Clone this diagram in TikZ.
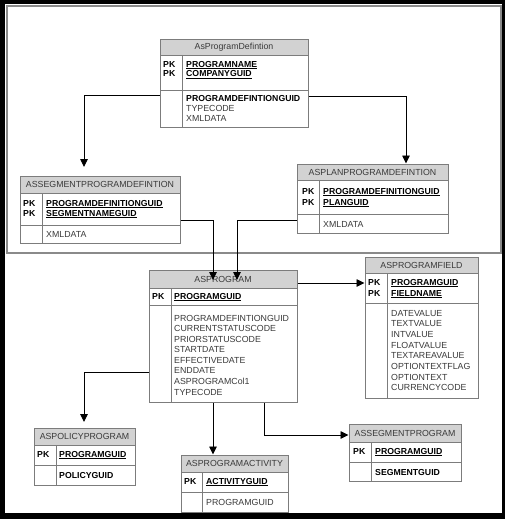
\documentclass[tikz,border=0pt]{standalone}
\usepackage{fontspec}
\setmainfont{Liberation Sans}
\usetikzlibrary{arrows.meta,fit}
\definecolor{hdrgray}{HTML}{D2D2D2}
\definecolor{bordergray}{HTML}{7C7C7C}
\definecolor{txtgray}{HTML}{3A3A3A}
\definecolor{framegray}{HTML}{8A8A8A}
\tikzset{
  hdrfill/.style={fill=hdrgray},
  tline/.style={draw=bordergray, line width=0.9pt},
  tbox/.style={draw=bordergray, line width=1pt, inner sep=0pt, rectangle},
  hdrtxt/.style={inner sep=0pt, text=txtgray, font=\fontsize{8.8}{10}\selectfont},
  fld/.style={inner sep=0pt, anchor=base west, text=txtgray, font=\fontsize{8.8}{10}\selectfont},
  pkf/.style={fld, text=black, font=\fontsize{8.7}{10}\selectfont\bfseries},
  conn/.style={draw=black, line width=0.9pt, -{Triangle[length=8pt,width=7.5pt]}}
}
% #1 name, #2 x1, #3 y1, #4 x2, #5 y header bottom, #6 y key bottom, #7 y2, #8 x divider
\newcommand\ertab[8]{%
  \fill[hdrfill] (#2,#3) rectangle (#4,#5);
  \draw[tline] (#2,#5) -- (#4,#5) (#2,#6) -- (#4,#6) (#8,#5) -- (#8,#7);
  \node[tbox, fit={(#2,#3) (#4,#7)}] (#1) {};
}
\begin{document}
\begin{tikzpicture}[x=1pt,y=-1pt]
\useasboundingbox (0,0) rectangle (505,519);
% outer frame
\fill[black] (0,0) rectangle (505,519);
\fill[white] (5,4) rectangle (502,513);
\draw[framegray, line width=1.4pt] (7,6) rectangle (501,253);

% level coordinates
\coordinate (r95) at (0,95);
\coordinate (r96) at (0,96);
\coordinate (r220) at (0,220);
\coordinate (r283) at (0,283);
\coordinate (r372) at (0,372);
\coordinate (r435) at (0,435);
\coordinate (x213) at (213,0);
\coordinate (x264) at (264,0);
\coordinate (x406) at (406,0);
\coordinate (t1) at (84,167);
\coordinate (t3) at (213,280);
\coordinate (t4) at (237,280);
\coordinate (t6) at (84,422);

% AsProgramDefintion
\ertab{apd}{160}{40}{308}{55}{90}{127}{182}
\node[hdrtxt] (apd-h) at (234,47.5) {AsProgramDefintion};
\node[pkf] (apd-k1) at (163,67) {PK};
\node[pkf] (apd-f1) at (186,67) {\underline{PROGRAMNAME}};
\node[pkf] (apd-k2) at (163,77) {PK};
\node[pkf] (apd-f2) at (186,77) {\underline{COMPANYGUID}};
\node[pkf] (apd-f3) at (186,101) {PROGRAMDEFINTIONGUID};
\node[fld] (apd-f4) at (186,111) {TYPECODE};
\node[fld] (apd-f5) at (186,121) {XMLDATA};

% ASSEGMENTPROGRAMDEFINTION
\ertab{asegpd}{20}{176}{180}{193}{225}{243}{42}
\node[hdrtxt] (asegpd-h) at (100,184.5) {ASSEGMENTPROGRAMDEFINTION};
\node[pkf] (asegpd-k1) at (23,206) {PK};
\node[pkf] (asegpd-f1) at (46,206) {\underline{PROGRAMDEFINITIONGUID}};
\node[pkf] (asegpd-k2) at (23,216) {PK};
\node[pkf] (asegpd-f2) at (46,216) {\underline{SEGMENTNAMEGUID}};
\node[fld] (asegpd-f3) at (46,237) {XMLDATA};

% ASPLANPROGRAMDEFINTION
\ertab{aspd}{297}{164}{448}{180}{214}{233}{319}
\node[hdrtxt] (aspd-h) at (372.5,172.5) {ASPLANPROGRAMDEFINTION};
\node[pkf] (aspd-k1) at (302,194) {PK};
\node[pkf] (aspd-f1) at (323,194) {\underline{PROGRAMDEFINITIONGUID}};
\node[pkf] (aspd-k2) at (302,205) {PK};
\node[pkf] (aspd-f2) at (323,205) {\underline{PLANGUID}};
\node[fld] (aspd-f3) at (323,227) {XMLDATA};

% ASPROGRAMFIELD
\ertab{asfield}{365}{257}{478}{273}{303}{398}{387}
\node[hdrtxt] (asfield-h) at (421.5,265) {ASPROGRAMFIELD};
\node[pkf] (asfield-k1) at (368,285) {PK};
\node[pkf] (asfield-f1) at (391,285) {\underline{PROGRAMGUID}};
\node[pkf] (asfield-k2) at (368,296) {PK};
\node[pkf] (asfield-f2) at (391,296) {\underline{FIELDNAME}};
\node[fld] (asfield-f3) at (391,316) {DATEVALUE};
\node[fld] (asfield-f4) at (391,326.7) {TEXTVALUE};
\node[fld] (asfield-f5) at (391,337.4) {INTVALUE};
\node[fld] (asfield-f6) at (391,348.1) {FLOATVALUE};
\node[fld] (asfield-f7) at (391,358.8) {TEXTAREAVALUE};
\node[fld] (asfield-f8) at (391,369.5) {OPTIONTEXTFLAG};
\node[fld] (asfield-f9) at (391,380.2) {OPTIONTEXT};
\node[fld] (asfield-f10) at (391,390.9) {CURRENCYCODE};

% ASPROGRAM
\ertab{asprog}{149}{270}{297}{288}{305}{402}{171}
\node[hdrtxt] (asprog-h) at (223,279) {ASPROGRAM};
\node[pkf] (asprog-k1) at (152,299) {PK};
\node[pkf] (asprog-f1) at (174,299) {\underline{PROGRAMGUID}};
\node[fld] (asprog-f2) at (174,321) {PROGRAMDEFINTIONGUID};
\node[fld] (asprog-f3) at (174,331.6) {CURRENTSTATUSCODE};
\node[fld] (asprog-f4) at (174,342.1) {PRIORSTATUSCODE};
\node[fld] (asprog-f5) at (174,352.7) {STARTDATE};
\node[fld] (asprog-f6) at (174,363.3) {EFFECTIVEDATE};
\node[fld] (asprog-f7) at (174,373.9) {ENDDATE};
\node[fld] (asprog-f8) at (174,384.4) {ASPROGRAMCol1};
\node[fld] (asprog-f9) at (174,395) {TYPECODE};

% ASPOLICYPROGRAM
\ertab{aspol}{34}{428}{135}{445}{465}{485}{56}
\node[hdrtxt] (aspol-h) at (84.5,436.5) {ASPOLICYPROGRAM};
\node[pkf] (aspol-k1) at (37,457) {PK};
\node[pkf] (aspol-f1) at (59,457) {\underline{PROGRAMGUID}};
\node[pkf] (aspol-f2) at (59,478) {POLICYGUID};

% ASPROGRAMACTIVITY
\ertab{asact}{181}{455}{288}{472}{492}{512}{202}
\node[hdrtxt] (asact-h) at (234.5,463.5) {ASPROGRAMACTIVITY};
\node[pkf] (asact-k1) at (184,484) {PK};
\node[pkf] (asact-f1) at (206,484) {\underline{ACTIVITYGUID}};
\node[fld] (asact-f2) at (206,505) {PROGRAMGUID};

% ASSEGMENTPROGRAM
\ertab{asseg}{349}{424}{461}{442}{462}{481}{371}
\node[hdrtxt] (asseg-h) at (405,433) {ASSEGMENTPROGRAM};
\node[pkf] (asseg-k1) at (353,454) {PK};
\node[pkf] (asseg-f1) at (375,454) {\underline{PROGRAMGUID}};
\node[pkf] (asseg-f2) at (375,475) {SEGMENTGUID};

% connectors
\draw[conn] (apd.west |- r95) -| (t1);
\draw[conn] (apd.east |- r96) -| (aspd.north -| x406);
\draw[conn] (asegpd.east |- r220) -| (t3);
\draw[conn] (aspd.west |- r220) -| (t4);
\draw[conn] (asprog.east |- r283) -- (asfield.west |- r283);
\draw[conn] (asprog.west |- r372) -| (t6);
\draw[conn] (asprog.south -| x213) -- (asact.north -| x213);
\draw[conn] (asprog.south -| x264) |- (asseg.west |- r435);
\end{tikzpicture}
\end{document}
